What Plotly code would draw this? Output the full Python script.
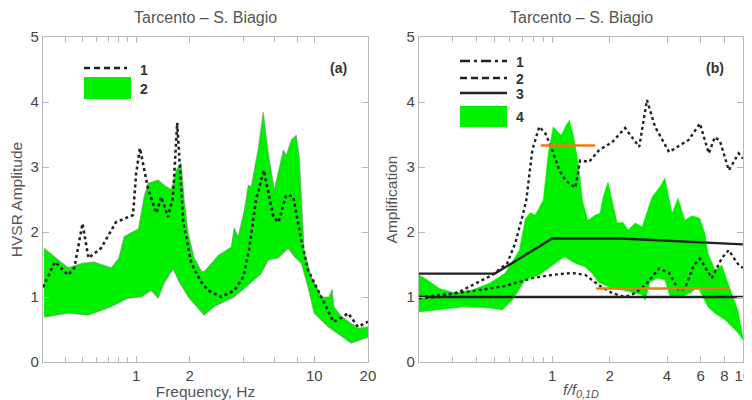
import math
import plotly.graph_objects as go

# ---------------- Panel (a) data ----------------
a_curve_f = [0.30, 0.35, 0.415, 0.45, 0.50, 0.54, 0.635, 0.77, 0.96, 1.00, 1.05, 1.17, 1.30, 1.38,
             1.51, 1.61, 1.70, 1.84, 2.04, 2.32, 2.54, 3.0, 3.55, 4.0, 4.3, 4.7, 5.2, 5.9, 6.3,
             6.95, 7.6, 8.1, 8.4, 9.2, 10.3, 11.4, 12.8, 14.2, 15.5, 17.6, 20]
a_curve = [1.15, 1.54, 1.34, 1.45, 2.13, 1.60, 1.75, 2.15, 2.26, 2.9, 3.29, 2.65, 2.29, 2.54,
           2.23, 2.54, 3.68, 2.14, 1.52, 1.23, 1.10, 1.00, 1.10, 1.31, 1.72, 2.49, 2.95, 2.23, 2.15,
           2.57, 2.55, 2.14, 1.92, 1.42, 1.15, 0.90, 0.62, 0.68, 0.75, 0.54, 0.62]

a_band_up_f = [0.304, 0.415, 0.50, 0.58, 0.724, 0.80, 0.856, 0.95, 1.03, 1.11, 1.168, 1.33, 1.436,
               1.573, 1.68, 1.79, 1.86, 1.96, 2.12, 2.32, 2.41, 2.89, 3.42, 3.55, 3.74, 4.05, 4.26,
               4.43, 4.85, 5.17, 5.52, 5.97, 6.70, 6.96, 7.45, 7.93, 8.24, 8.66, 8.77, 9.6, 11.0,
               12.1, 12.6, 12.9, 14.2, 17.6, 20]
a_band_up = [1.75, 1.45, 1.52, 1.54, 1.45, 1.60, 1.93, 2.0, 2.05, 2.55, 2.75, 2.80, 2.72,
             2.65, 2.95, 3.06, 2.50, 1.98, 1.60, 1.40, 1.39, 1.64, 1.77, 2.06, 1.93, 2.34, 2.72,
             2.70, 3.29, 3.85, 3.21, 2.65, 3.26, 3.18, 3.42, 3.49, 3.15, 2.03, 1.72, 1.31, 1.0,
             1.0, 1.12, 0.85, 0.70, 0.52, 0.54]

a_band_lo_f = [0.304, 0.415, 0.537, 0.62, 0.724, 0.90, 1.067, 1.214, 1.33, 1.436, 1.614, 1.72,
               1.96, 2.41, 2.74, 3.55, 4.0, 4.6, 5.0, 5.52, 6.28, 7.14, 7.73, 8.45, 9.23, 9.98,
               12.0, 16.1, 20]
a_band_lo = [0.69, 0.75, 0.72, 0.78, 0.85, 0.98, 1.0, 1.10, 0.98, 1.21, 1.44, 1.26,
             1.0, 0.72, 0.85, 1.0, 1.12, 1.26, 1.35, 1.57, 1.60, 1.75, 1.62, 1.52, 1.15, 0.75,
             0.54, 0.29, 0.38]

# ---------------- Panel (b) data ----------------
b1_f = [0.2, 0.256, 0.381, 0.567, 0.786, 1.0, 1.27, 1.49, 1.76, 2.06, 2.41, 2.72, 3.07, 3.63,
        4.10, 4.62, 4.96, 5.53, 5.95, 6.87, 7.76, 8.44, 9.1, 9.63, 10]
b1 = [1.0, 1.03, 1.09, 1.17, 1.29, 1.34, 1.37, 1.34, 1.18, 1.06, 1.0, 1.06, 1.18, 1.44,
      1.37, 1.1, 1.13, 1.49, 1.59, 1.29, 1.6, 1.72, 1.57, 1.47, 1.45]

b2_f = [0.2, 0.256, 0.326, 0.381, 0.485, 0.581, 0.64, 0.696, 0.731, 0.786, 0.855, 0.919, 1.0,
        1.088, 1.17, 1.32, 1.40, 1.56, 1.76, 2.06, 2.41, 2.86, 3.14, 3.46, 4.10, 5.21, 5.95,
        6.62, 7.13, 7.58, 8.44, 9.5, 10]
b2 = [0.98, 1.0, 1.08, 1.18, 1.34, 1.52, 1.83, 2.23, 2.49, 3.26, 3.62, 3.52, 3.26,
      2.95, 2.8, 2.68, 3.1, 3.08, 3.26, 3.38, 3.6, 3.31, 4.03, 3.62, 3.23, 3.42, 3.67,
      3.21, 3.46, 3.40, 2.95, 3.21, 3.13]

b3_up_f = [0.2, 0.5, 1.0, 2.3, 10]
b3_up = [1.36, 1.36, 1.9, 1.9, 1.81]
b3_lo_f = [0.2, 10]
b3_lo = [1.0, 1.0]

orange_hi_f = [0.87, 1.68]
orange_hi = [3.33, 3.33]
orange_lo_f = [1.7, 8.56]
orange_lo = [1.13, 1.13]

b_band_up_f = [0.2, 0.222, 0.256, 0.311, 0.381, 0.468, 0.567, 0.672, 0.722, 0.767, 0.814, 0.897,
               0.953, 1.012, 1.062, 1.115, 1.17, 1.23, 1.29, 1.37, 1.44, 1.54, 1.68, 1.78, 1.85,
               1.96, 2.06, 2.19, 2.35, 2.5, 2.72, 2.96, 3.34, 3.68, 3.9, 4.25, 4.57, 4.96, 5.41,
               5.95, 6.32, 6.55, 7.13, 7.76, 8.24, 8.76, 9.41, 10]
b_band_up = [1.34, 1.26, 1.13, 1.06, 1.11, 1.21, 1.37, 1.72, 2.2, 2.3, 2.26, 2.49,
             3.21, 3.62, 3.55, 3.49, 3.62, 3.72, 3.49, 3.06, 2.49, 2.18, 2.26, 2.29, 2.54,
             2.77, 2.49, 2.14, 2.15, 2.03, 2.14, 2.08, 2.54, 2.7, 2.83, 2.29, 2.52, 2.18, 2.25,
             2.21, 1.98, 1.68, 1.42, 1.49, 1.26, 1.06, 0.8, 0.38]

b_band_lo_f = [0.2, 0.256, 0.35, 0.468, 0.547, 0.617, 0.722, 0.855, 1.0, 1.156, 1.32, 1.49,
               1.62, 1.74, 2.06, 2.41, 2.96, 3.07, 3.26, 3.55, 3.9, 4.15, 4.79, 5.28, 5.81,
               6.17, 6.55, 7.13, 8.04, 8.76, 9.41, 10]
b_band_lo = [0.77, 0.8, 0.85, 0.83, 0.8, 0.95, 1.26, 1.34, 1.49, 1.62, 1.52, 1.46,
             1.36, 1.23, 1.13, 1.1, 1.03, 0.95, 1.23, 1.29, 1.26, 1.0, 1.0, 1.06, 1.15,
             1.0, 0.85, 0.75, 0.65, 0.54, 0.45, 0.34]

a_ticks = [1, 2, 10, 20]
a_ticktext = ["1", "2", "10", "20"]
a_minor = [0.4, 0.5, 0.6, 0.7, 0.8, 0.9, 4, 6, 8]
b_ticks = [1, 2, 4, 6, 8, 10]
b_ticktext = ["1", "2", "4", "6", "8", "10"]
b_minor = [0.3, 0.4, 0.5, 0.6, 0.7, 0.8, 0.9]
y_ticks = [0, 1, 2, 3, 4, 5]

GREEN = "#00f000"
DARK = "#222222"
ORANGE = "#f07a1a"
FONT = "Liberation Sans, Arial, sans-serif"

# page has an 8px body margin: figure is 744x392 placed at (8, 8)
W, H, OFF = 744, 392, 8
def PX(x):
    return (x - OFF) / W
def PY(y):
    return 1 - (y - OFF) / H

fig = go.Figure()

# panel (a)
fig.add_trace(go.Scatter(x=a_band_up_f + a_band_lo_f[::-1], y=a_band_up + a_band_lo[::-1],
                         fill="toself", fillcolor=GREEN, mode="lines",
                         line=dict(color="rgba(120,140,120,0.55)", width=1.2),
                         xaxis="x", yaxis="y", showlegend=False, hoverinfo="skip"))
fig.add_trace(go.Scatter(x=a_curve_f, y=a_curve, mode="lines",
                         line=dict(color=DARK, width=2.6, dash="3px,3px"),
                         xaxis="x", yaxis="y", showlegend=False))

# panel (b)
fig.add_trace(go.Scatter(x=b_band_up_f + b_band_lo_f[::-1], y=b_band_up + b_band_lo[::-1],
                         fill="toself", fillcolor=GREEN, mode="lines",
                         line=dict(color=GREEN, width=0.5),
                         xaxis="x2", yaxis="y2", showlegend=False, hoverinfo="skip"))
fig.add_trace(go.Scatter(x=b3_up_f, y=b3_up, mode="lines", line=dict(color=DARK, width=2.4),
                         xaxis="x2", yaxis="y2", showlegend=False))
fig.add_trace(go.Scatter(x=b3_lo_f, y=b3_lo, mode="lines", line=dict(color=DARK, width=2.4),
                         xaxis="x2", yaxis="y2", showlegend=False))
fig.add_trace(go.Scatter(x=b1_f, y=b1, mode="lines",
                         line=dict(color=DARK, width=2.4, dash="3px,3px"),
                         xaxis="x2", yaxis="y2", showlegend=False))
fig.add_trace(go.Scatter(x=b2_f, y=b2, mode="lines",
                         line=dict(color=DARK, width=2.4, dash="3px,3px"),
                         xaxis="x2", yaxis="y2", showlegend=False))
fig.add_trace(go.Scatter(x=orange_hi_f, y=orange_hi, mode="lines", line=dict(color=ORANGE, width=2.6),
                         xaxis="x2", yaxis="y2", showlegend=False))
fig.add_trace(go.Scatter(x=orange_lo_f, y=orange_lo, mode="lines", line=dict(color=ORANGE, width=2.6),
                         xaxis="x2", yaxis="y2", showlegend=False))

AXC = "#b8b8b8"
TICKF = dict(family=FONT, size=15, color="#444")
TITF = dict(family=FONT, size=15.5, color="#555")

def xax(domain, rng, tv, tt, minor, title):
    return dict(type="log", domain=domain, range=rng, tickmode="array", tickvals=tv, ticktext=tt,
                ticks="inside", ticklen=6, tickcolor=AXC, showline=True, linecolor=AXC,
                linewidth=1.2, mirror="ticks", showgrid=False, zeroline=False, tickfont=TICKF,
                automargin=False,
                minor=dict(tickmode="array", tickvals=minor, ticks="inside", ticklen=5, tickcolor=AXC),
                title=dict(text=title, font=TITF, standoff=1))

def yax(domain, anchor, title):
    return dict(domain=domain, range=[0, 5], tickmode="array", tickvals=y_ticks, anchor=anchor,
                ticks="inside", ticklen=6, tickcolor=AXC, showline=True, linecolor=AXC,
                linewidth=1.2, mirror="ticks", showgrid=False, zeroline=False, tickfont=TICKF,
                automargin=False,
                title=dict(text=title, font=TITF, standoff=5))

YD = [PY(362), PY(37)]
fig.update_layout(
    width=W, height=H, margin=dict(l=0, r=0, t=0, b=0, autoexpand=False),
    paper_bgcolor="white", plot_bgcolor="white", font=dict(family=FONT),
    xaxis=xax([PX(43), PX(368)], [math.log10(0.3), math.log10(20) + 0.0006],
              a_ticks, a_ticktext, a_minor, "Frequency, Hz") | dict(anchor="y"),
    yaxis=yax(YD, "x", "HVSR Amplitude"),
    xaxis2=xax([PX(419), PX(743)], [math.log10(0.2), 1.0006],
               b_ticks, b_ticktext, b_minor,
               "<i>f/f</i><sub><i>0,1D</i></sub>") | dict(anchor="y2"),
    yaxis2=yax(YD, "x2", "Amplification"),
)

def note(text, x, y, size, color="#333", xref="paper"):
    return dict(text=text, xref=xref, yref="paper", x=x, y=y, showarrow=False,
                xanchor="center", yanchor="middle", font=dict(family=FONT, size=size, color=color))

ann = []
for xr in ["x domain", "x2 domain"]:
    ann.append(note("Tarcento – S. Biagio", 0.5, PY(18), 16, "#555", xr))
ann.append(note("<b>(a)</b>", PX(338), PY(68), 14))
ann.append(note("<b>(b)</b>", PX(715), PY(68), 14))

shapes = []
# legend (a)
shapes.append(dict(type="line", xref="paper", yref="paper", x0=PX(84), x1=PX(127), y0=PY(68), y1=PY(68),
                   line=dict(color=DARK, width=2.6, dash="6px,4px")))
shapes.append(dict(type="rect", xref="paper", yref="paper", x0=PX(84), x1=PX(131), y0=PY(99), y1=PY(77),
                   fillcolor=GREEN, line=dict(width=0)))
for t, yy in [("1", 70), ("2", 89)]:
    ann.append(note("<b>" + t + "</b>", PX(144), PY(yy), 14))
# legend (b)
shapes.append(dict(type="line", xref="paper", yref="paper", x0=PX(460), x1=PX(507), y0=PY(61), y1=PY(61),
                   line=dict(color=DARK, width=2.6, dash="10px,4px,3px,4px")))
shapes.append(dict(type="line", xref="paper", yref="paper", x0=PX(460), x1=PX(507), y0=PY(78), y1=PY(78),
                   line=dict(color=DARK, width=2.6, dash="7px,4px")))
shapes.append(dict(type="line", xref="paper", yref="paper", x0=PX(460), x1=PX(507), y0=PY(93), y1=PY(93),
                   line=dict(color=DARK, width=2.6)))
shapes.append(dict(type="rect", xref="paper", yref="paper", x0=PX(460), x1=PX(507), y0=PY(127), y1=PY(106),
                   fillcolor=GREEN, line=dict(width=0)))
for t, yy in [("1", 62), ("2", 79), ("3", 94), ("4", 117)]:
    ann.append(note("<b>" + t + "</b>", PX(520), PY(yy), 14))

fig.update_layout(annotations=ann, shapes=shapes)
fig.write_html("out.html")
